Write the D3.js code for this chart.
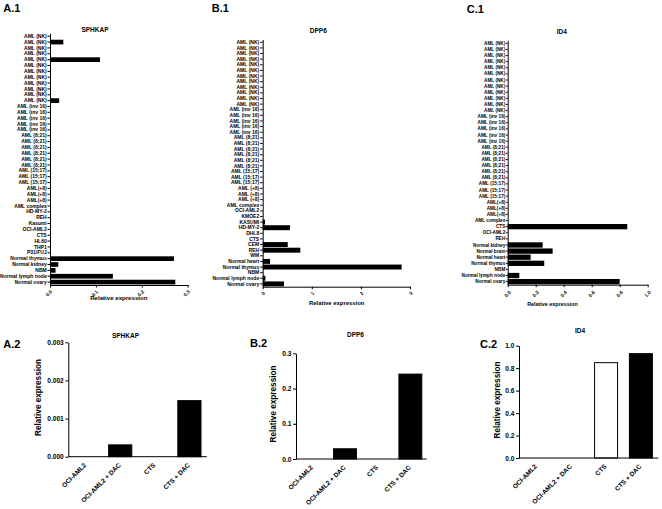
<!DOCTYPE html>
<html>
<head>
<meta charset="utf-8">
<script src="https://cdn.jsdelivr.net/npm/d3@7/dist/d3.min.js"></script>
<style>
  html, body { margin: 0; padding: 0; background: #fff; }
  svg { display: block; }
  text { font-family: 'Liberation Sans', Arial, Helvetica, sans-serif; font-weight: bold; fill: #000; }
</style>
</head>
<body>
<svg id="chart" width="662" height="509"></svg>
<script>
function rep(label, n) { const a = []; for (let i = 0; i < n; i++) a.push(label); return a; }

// ---------- Panel A.1 : SPHKAP ----------
const catsA1 = [].concat(
  rep("AML (NK)", 12), rep("AML (inv 16)", 5), rep("AML (8;21)", 6),
  rep("AML (15;17)", 3), rep("AML(+8)", 3),
  ["AML complex", "HD-MY-2", "REH", "Kasumi", "OCI-AML2", "CTS", "HL60", "THP1", "P31/FUJ",
   "Normal thymus", "Normal kidney", "NBM", "Normal lymph node", "Normal ovary"]);
const valsA1 = [0, 0.029, 0, 0, 0.109, 0, 0, 0, 0, 0, 0, 0.020,
  0, 0, 0, 0, 0,
  0, 0, 0, 0, 0, 0,
  0, 0, 0,
  0, 0, 0,
  0, 0, 0, 0, 0, 0, 0, 0, 0,
  0.270, 0.018, 0.012, 0.137, 0.273];
const ticksA1 = [0, 0.1, 0.2, 0.3];

// ---------- Panel B.1 : DPP6 ----------
const catsB1 = [].concat(
  rep("AML (NK)", 12), rep("AML (inv 16)", 5), rep("AML (8;21)", 6),
  rep("AML (15;17)", 3), rep("AML (+8)", 3),
  ["AML complex", "OCI-AML2", "KMOE2", "KASUMI", "HD-MY-2", "DHL8", "CTS", "CEM", "REH", "WM",
   "Normal heart", "Normal thymus", "NBM", "Normal lymph node", "Normal ovary"]);
const valsB1 = [0, 0, 0, 0, 0, 0, 0, 0, 0, 0, 0, 0,
  0, 0, 0, 0, 0,
  0, 0, 0, 0, 0, 0,
  0, 0, 0,
  0, 0, 0,
  0, 0, 0, 0.047, 0.556, 0, 0, 0.51, 0.766, 0,
  0.149, 2.83, 0, 0.054, 0.434];
const ticksB1 = [0, 1, 2, 3];

// ---------- Panel C.1 : ID4 ----------
const catsC1 = [].concat(
  rep("AML (NK)", 12), rep("AML (inv 16)", 5), rep("AML (8;21)", 6),
  rep("AML (15;17)", 3), rep("AML(+8)", 3),
  ["AML complex", "CTS", "OCI-AML2", "REH", "Normal kidney", "Normal brain", "Normal heart",
   "Normal thymus", "NBM", "Normal lymph node", "Normal ovary"]);
const valsC1 = [0, 0, 0, 0, 0, 0, 0, 0, 0, 0, 0, 0,
  0, 0, 0, 0, 0,
  0, 0, 0, 0, 0, 0,
  0, 0, 0,
  0, 0, 0,
  0, 0.854, 0, 0, 0.25, 0.321, 0.164, 0.261, 0, 0.083, 0.80];
const ticksC1 = [0, 0.2, 0.4, 0.6, 0.8, 1.0];

// ---------- Bottom panels ----------
const cats2 = ["OCI-AML2", "OCI-AML2 + DAC", "CTS", "CTS + DAC"];
const fills2 = ["#fff", "#000", "#fff", "#000"];
const valsA2 = [0, 0.00031, 0, 0.00147];
const ticksA2 = [0, 0.001, 0.002, 0.003];
const valsB2 = [0, 0.029, 0, 0.241];
const ticksB2 = [0, 0.1, 0.2, 0.3];
const valsC2 = [0, 0, 0.849, 0.929];
const ticksC2 = [0, 0.2, 0.4, 0.6, 0.8, 1.0];

const svg = d3.select("#chart");

function hPanel(o) {
  const g = svg.append("g");
  const y = d3.scaleBand().domain(d3.range(o.cats.length)).range([o.top, o.bottom])
    .paddingInner(o.pad).paddingOuter(o.pad / 2);
  const x = d3.scaleLinear().domain([0, o.max]).range([o.x0, o.x1]);
  g.selectAll("rect.bar").data(o.vals).join("rect").attr("class", "bar")
    .attr("x", x(0)).attr("y", (d, i) => y(i))
    .attr("width", d => Math.max(0, x(d) - x(0))).attr("height", y.bandwidth())
    .attr("fill", "#000");
  const ya = g.append("g").attr("transform", `translate(${o.x0},0)`)
    .call(d3.axisLeft(y).tickSize(o.tickLen).tickSizeOuter(0).tickPadding(o.tickPad)
      .tickFormat(i => o.cats[i]));
  ya.selectAll("text").style("font-size", o.labFont + "px");
  ya.selectAll("line,path").attr("stroke", "#000").attr("stroke-width", 1);
  const xa = g.append("g").attr("transform", `translate(0,${o.bottom})`)
    .call(d3.axisBottom(x).tickValues(o.ticks).tickSize(2.5).tickSizeOuter(0)
      .tickFormat(o.fmt));
  xa.selectAll("line,path").attr("stroke", "#000").attr("stroke-width", 1);
  xa.selectAll("text").attr("y", 0).attr("dy", 0)
    .attr("transform", `translate(${o.tdx},${o.tdy}) rotate(-45)`)
    .attr("text-anchor", "end").style("font-size", "4.8px");
  g.append("text").attr("x", o.titleX).attr("y", o.titleY).attr("text-anchor", "middle")
    .style("font-size", "6.5px").text(o.title);
  g.append("text").attr("x", o.xtX).attr("y", o.xtY).attr("text-anchor", "middle")
    .style("font-size", o.xtFont + "px").text("Relative expression");
  g.append("text").attr("x", o.lblX).attr("y", o.lblY)
    .style("font-size", "11px").text(o.lbl);
}

function vPanel(o) {
  const g = svg.append("g");
  const x = d3.scaleBand().domain(d3.range(o.cats.length)).range([o.x0, o.x1])
    .paddingInner(o.pad).paddingOuter(o.pad / 2);
  const y = d3.scaleLinear().domain([0, o.max]).range([o.bottom, o.top]);
  g.selectAll("rect.bar").data(o.vals).join("rect").attr("class", "bar")
    .attr("x", (d, i) => x(i)).attr("y", d => y(d))
    .attr("width", x.bandwidth()).attr("height", d => Math.max(0, y(0) - y(d)))
    .attr("fill", (d, i) => o.fills[i]).attr("stroke", "#000").attr("stroke-width", 1);
  const ya = g.append("g").attr("transform", `translate(${o.x0},0)`)
    .call(d3.axisLeft(y).tickValues(o.ticks).tickSize(3).tickSizeOuter(0).tickPadding(1.5)
      .tickFormat(o.fmt));
  ya.selectAll("line,path").attr("stroke", "#000").attr("stroke-width", 1);
  ya.selectAll("text").style("font-size", "6.6px");
  g.append("line").attr("x1", o.x0).attr("x2", o.x1).attr("y1", o.bottom).attr("y2", o.bottom)
    .attr("stroke", "#000").attr("stroke-width", 1);
  g.selectAll("text.cat").data(o.cats).join("text").attr("class", "cat")
    .attr("text-anchor", "end").style("font-size", "6.5px")
    .attr("transform", (d, i) => `translate(${x(i) + x.bandwidth() / 2 + 1},${o.bottom + 9}) rotate(-45)`)
    .text(d => d);
  g.append("text").attr("x", o.titleX).attr("y", o.titleY).attr("text-anchor", "middle")
    .style("font-size", "6.5px").text(o.title);
  g.append("text").attr("transform", `translate(${o.ytX},${o.ytY}) rotate(-90)`)
    .attr("text-anchor", "middle").style("font-size", "8.2px").text("Relative expression");
  g.append("text").attr("x", o.lblX).attr("y", o.lblY)
    .style("font-size", "11px").text(o.lbl);
}

hPanel({cats: catsA1, vals: valsA1, ticks: ticksA1, max: 0.3, fmt: d3.format(".1f"),
  x0: 50, x1: 187.7, top: 33.3, bottom: 285, pad: 0.2, tickLen: 2.5, tickPad: 0.8, labFont: 5,
  tdx: 2, tdy: 7, title: "SPHKAP", titleX: 95, titleY: 31.5, xtX: 118.8, xtY: 299.5, xtFont: 6.1,
  lbl: "A.1", lblX: 3.3, lblY: 12});

hPanel({cats: catsB1, vals: valsB1, ticks: ticksB1, max: 3, fmt: d3.format("d"),
  x0: 262.7, x1: 410, top: 39.5, bottom: 286.7, pad: 0.12, tickLen: 2.5, tickPad: 1, labFont: 5,
  tdx: 2.3, tdy: 7, title: "DPP6", titleX: 318.3, titleY: 33, xtX: 336.7, xtY: 305, xtFont: 5.9,
  lbl: "B.1", lblX: 211.7, lblY: 12});

hPanel({cats: catsC1, vals: valsC1, ticks: ticksC1, max: 1.0, fmt: d3.format(".1f"),
  x0: 507.7, x1: 647.7, top: 40.3, bottom: 284.7, pad: 0.13, tickLen: 1.8, tickPad: 0.6, labFont: 4.7,
  tdx: 3, tdy: 8, title: "ID4", titleX: 561.7, titleY: 34.3, xtX: 552.5, xtY: 305.5, xtFont: 5.4,
  lbl: "C.1", lblX: 466.7, lblY: 13.3});

vPanel({cats: cats2, vals: valsA2, fills: fills2, ticks: ticksA2, max: 0.003, fmt: d3.format(".3f"),
  x0: 68.3, x1: 206.7, top: 342.3, bottom: 456.7, pad: 0.33,
  title: "SPHKAP", titleX: 125.5, titleY: 338.3, ytX: 41, ytY: 397.5,
  lbl: "A.2", lblX: 3.3, lblY: 348.3});

vPanel({cats: cats2, vals: valsB2, fills: fills2, ticks: ticksB2, max: 0.3, fmt: d3.format(".1f"),
  x0: 296, x1: 426.7, top: 353.3, bottom: 459, pad: 0.3,
  title: "DPP6", titleX: 355.5, titleY: 336.7, ytX: 275.5, ytY: 404,
  lbl: "B.2", lblX: 250, lblY: 347.3});

vPanel({cats: cats2, vals: valsC2, fills: fills2, ticks: ticksC2, max: 1.0, fmt: d3.format(".1f"),
  x0: 519, x1: 658.3, top: 345.7, bottom: 458, pad: 0.34,
  title: "ID4", titleX: 580, titleY: 333.3, ytX: 499.5, ytY: 400,
  lbl: "C.2", lblX: 480, lblY: 348.3});
</script>
</body>
</html>
